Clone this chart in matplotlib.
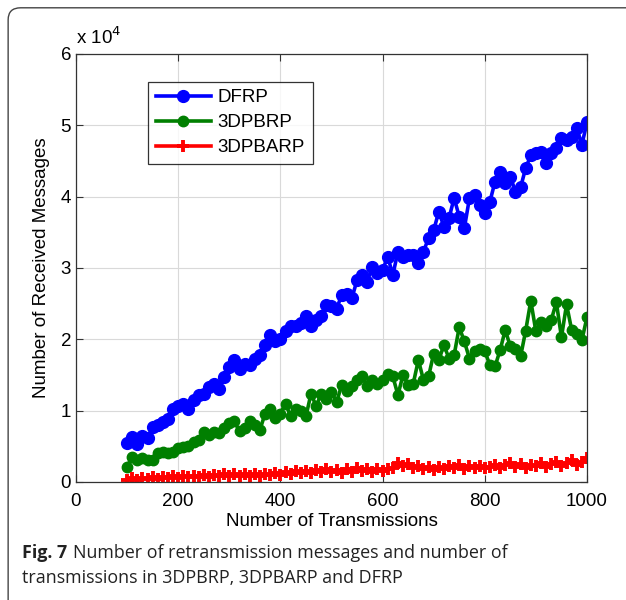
import matplotlib
matplotlib.use("Agg")
import matplotlib.pyplot as plt
from matplotlib.patches import FancyBboxPatch
from matplotlib.ticker import FuncFormatter, MultipleLocator

# number of transmissions, 100..1000 step 10
transmissions = list(range(100, 1001, 10))

dfrp = [
    5400, 6350, 5300, 6500, 6100, 7700, 8000, 8400, 8800, 10300,
    10700, 11000, 10300, 11500, 12200, 12300, 13300, 13800, 13100, 14700,
    16100, 17100, 15900, 16600, 16400, 17300, 17800, 19200, 20600, 19700,
    20100, 21100, 21800, 21900, 22300, 23200, 21800, 22700, 23200, 24800,
    24700, 24300, 26200, 26400, 25800, 28300, 29000, 28100, 30200, 29300,
    29700, 31600, 29000, 32300, 31600, 31800, 31800, 30700, 32300, 34200,
    35300, 37900, 35800, 37000, 39800, 37200, 35600, 39800, 40200, 38800,
    37700, 39300, 42100, 43500, 41900, 42800, 40700, 41300, 44000, 45800,
    46100, 46300, 44700, 46100, 46800, 48200, 47900, 48400, 49600, 47300, 50400,
]

dpbrp = [
    2150, 3550, 3100, 3300, 3100, 3100, 4000, 4200, 4000, 4200,
    4700, 4900, 5100, 5650, 5850, 7000, 6600, 7000, 6900, 7500,
    8300, 8500, 7100, 7500, 8500, 8000, 7300, 9600, 10300, 8900,
    9600, 11000, 9200, 10300, 9900, 9200, 12400, 10600, 12400, 11700,
    12600, 11200, 13600, 12700, 13400, 14300, 14800, 13400, 14300, 13800,
    14300, 15200, 14800, 12200, 15000, 13600, 13800, 17100, 14300, 14800,
    18000, 17100, 19200, 17300, 17800, 21700, 19700, 17300, 18300, 18700,
    18300, 16400, 16200, 18500, 21300, 19000, 18700, 17600, 21200, 25400,
    21100, 22400, 21800, 22700, 25200, 20300, 24900, 21300, 20800, 19900, 23100,
]

dpbarp = [
    300, 500, 250, 550, 400, 650, 450, 700, 500, 800,
    600, 850, 650, 900, 700, 950, 750, 1000, 800, 1100,
    900, 1150, 850, 1050, 800, 1100, 900, 1050, 950, 1300,
    1000, 1400, 1150, 1550, 1250, 1600, 1300, 1700, 1350, 1850,
    1400, 1700, 1300, 1750, 1450, 1900, 1500, 1800, 1400, 1850,
    1500, 1750, 1950, 2650, 2200, 2500, 1900, 2300, 1800, 2100,
    1700, 2050, 1800, 2300, 1900, 2350, 1850, 2250, 2000, 2300,
    1900, 2150, 2400, 2000, 2450, 2700, 2100, 2500, 2000, 2400,
    2200, 2600, 2150, 2500, 2800, 2300, 2650, 3100, 2400, 2800, 3300,
]

x_ticks = [0, 200, 400, 600, 800, 1000]

plt.rcParams["font.family"] = ["Liberation Sans", "DejaVu Sans"]

fig = plt.figure(figsize=(6.26, 6.0), dpi=100)

# page frame around figure + caption
frame = FancyBboxPatch((0.013, -0.2), 1.2, 1.187, boxstyle="round,pad=0,rounding_size=0.02",
                       transform=fig.transFigure, facecolor="none", edgecolor="#444444",
                       linewidth=1.0)
fig.patches.append(frame)

ax = fig.add_axes([0.1214, 0.1967, 0.8163, 0.7133])

ax.plot(transmissions, dfrp, color="#0000ff", marker="o", ms=8.5, lw=2.6, label="DFRP")
ax.plot(transmissions, dpbrp, color="#007f00", marker="o", ms=7.5, lw=2.6, label="3DPBRP")
ax.plot(transmissions, dpbarp, color="#ff0000", marker="+", ms=8, mew=2.8, lw=2.6, label="3DPBARP")

ax.set_xlim(0, 1000)
ax.set_ylim(0, 60000)
ax.set_xticks(x_ticks)
ax.yaxis.set_major_locator(MultipleLocator(10000))
ax.yaxis.set_major_formatter(FuncFormatter(lambda v, p: f"{v / 1e4:g}"))
ax.grid(True, color="#d9d9d9", lw=0.8)
ax.set_axisbelow(True)
ax.tick_params(direction="in", top=True, right=True, labelsize=13.5, length=5,
               color="#333333")
ax.tick_params(axis="x", pad=8)
for s in ax.spines.values():
    s.set_color("#333333")
    s.set_linewidth(0.9)

ax.set_xlabel("Number of Transmissions", fontsize=13.5, labelpad=2)
ax.set_ylabel("Number of Received Messages", fontsize=13.5, labelpad=8)
ax.text(0.0, 1.015, r"x 10$^4$", transform=ax.transAxes, fontsize=13.5, ha="left", va="bottom")

leg = ax.legend(loc="upper left", bbox_to_anchor=(0.141, 0.935), fontsize=13.5,
                frameon=True, fancybox=False, edgecolor="black", handlelength=2.95,
                borderpad=0.4, labelspacing=0.42, handletextpad=0.37, borderaxespad=0)
leg.get_frame().set_linewidth(0.9)

# caption: bold label followed by plain text on the same line
cap_kw = dict(fontsize=12.9, family="Open Sans", ha="left", va="center", color="#222222")
t1 = fig.text(0.035, 0.078, "Fig. 7", fontweight="bold", **cap_kw)
renderer = fig.canvas.get_renderer()
bb = t1.get_window_extent(renderer=renderer)
x_next = (bb.x1 + 6) / fig.bbox.width
fig.text(x_next, 0.078, "Number of retransmission messages and number of", **cap_kw)
fig.text(0.035, 0.037, "transmissions in 3DPBRP, 3DPBARP and DFRP", **cap_kw)

fig.savefig("out.png", dpi=100)
